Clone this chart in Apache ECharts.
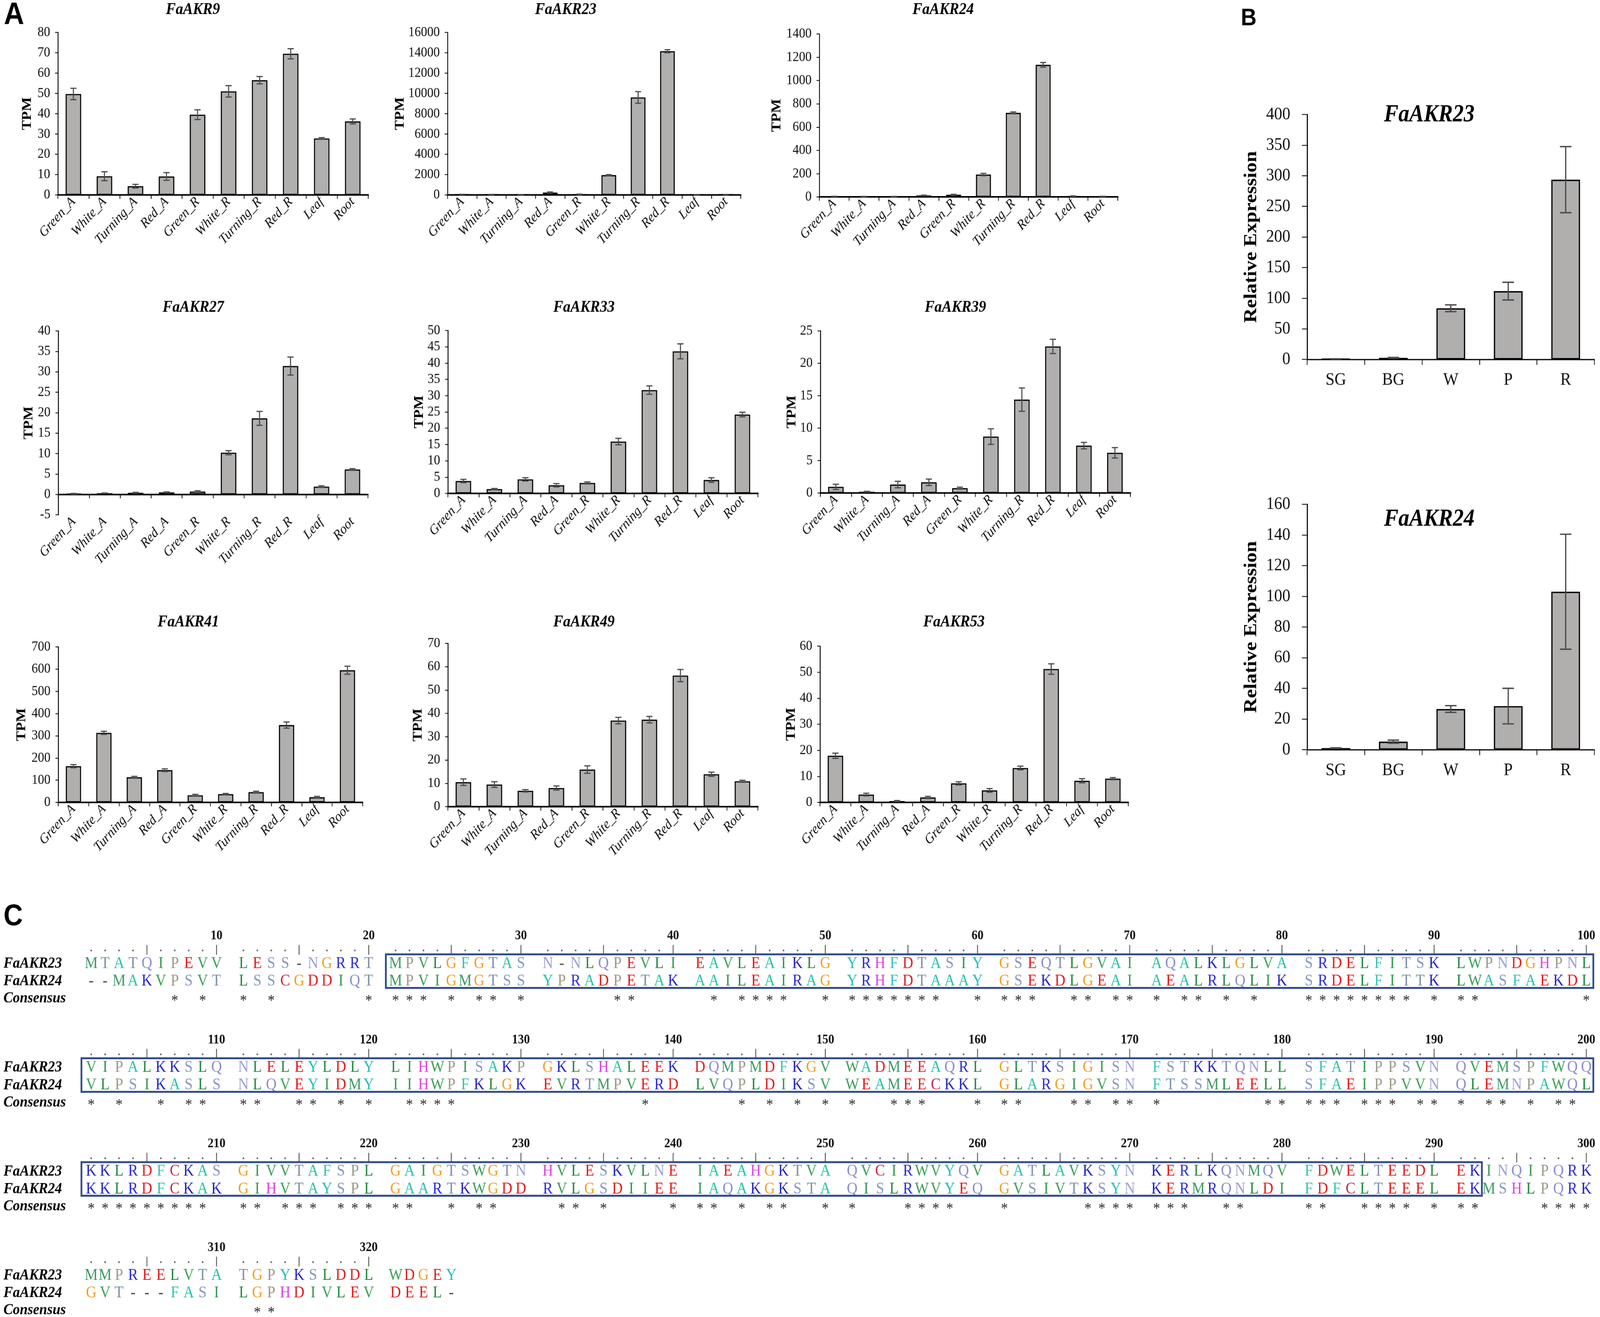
<!DOCTYPE html>
<html><head><meta charset="utf-8">
<script src="https://cdn.jsdelivr.net/npm/echarts@6/dist/echarts.min.js"></script>
<style>html,body{margin:0;padding:0;background:#fff;overflow:hidden}#c{width:4562px;height:3372px;transform-origin:0 0}</style>
</head><body><div id="c"></div>
<script>
// ---------------- DATA ----------------
const tissues = ['Green_A','White_A','Turning_A','Red_A','Green_R','White_R','Turning_R','Red_R','Leaf','Root'];

const akr9Mean  = [49.7, 9.2, 4.3, 9.1, 39.5, 51.0, 56.5, 69.5, 27.8, 36.2];
const akr9Err   = [2.8, 2.2, 0.9, 1.9, 2.4, 2.8, 1.8, 2.5, 0.4, 1.2];
const akr23Mean = [50, 40, 30, 230, 50, 1950, 9600, 14150, 30, 40];
const akr23Err  = [10, 8, 5, 60, 30, 50, 570, 150, 8, 8];
const akr24Mean = [4, 3, 3, 12, 18, 192, 722, 1135, 6, 4];
const akr24Err  = [1, 1, 1, 3, 4, 10, 8, 20, 2, 1];
const akr27Mean = [0.15, 0.3, 0.4, 0.5, 0.7, 10.2, 18.6, 31.4, 1.9, 6.1];
const akr27Err  = [0.1, 0.05, 0.1, 0.1, 0.2, 0.5, 1.7, 2.2, 0.2, 0.2];
const akr33Mean = [3.8, 1.3, 4.3, 2.5, 3.2, 15.9, 31.7, 43.6, 4.1, 24.2];
const akr33Err  = [0.5, 0.2, 0.5, 0.5, 0.3, 1.0, 1.3, 2.3, 0.7, 0.7];
const akr39Mean = [0.95, 0.2, 1.3, 1.65, 0.75, 8.7, 14.4, 22.6, 7.3, 6.2];
const akr39Err  = [0.4, 0.05, 0.5, 0.5, 0.15, 1.2, 1.8, 1.1, 0.5, 0.8];
const akr41Mean = [163, 313, 113, 145, 32, 37, 46, 348, 23, 595];
const akr41Err  = [7, 7, 4, 6, 4, 3, 4, 14, 4, 18];
const akr49Mean = [10.5, 9.5, 6.8, 8.0, 15.9, 36.9, 37.3, 56.2, 13.9, 10.9];
const akr49Err  = [1.4, 1.2, 0.5, 0.9, 1.6, 1.4, 1.4, 2.6, 0.9, 0.4];
const akr53Mean = [17.9, 3.0, 0.5, 1.9, 7.3, 4.6, 13.2, 51.2, 8.3, 9.1];
const akr53Err  = [1.0, 0.5, 0.2, 0.4, 0.6, 0.7, 0.7, 2.0, 0.8, 0.4];

const stages = ['SG','BG','W','P','R'];
const qAkr23Mean = [0.8, 2.5, 83.5, 111.5, 293.5];
const qAkr23Err  = [0.2, 0.6, 5.5, 14.5, 54];
const qAkr24Mean = [1.0, 5.2, 26.5, 28.4, 103];
const qAkr24Err  = [0.2, 1.0, 2.2, 11.6, 37.5];

const seqNames = ['FaAKR23', 'FaAKR24', 'Consensus'];
const seqAKR23 = [
  'MTATQIPEVV LESS-NGRRT MPVLGFGTAS N-NLQPEVLI EAVLEAIKLG YRHFDTASIY GSEQTLGVAI AQALKLGLVA SRDELFITSK LWPNDGHPNL',
  'VIPALKKSLQ NLELEYLDLY LIHWPISAKP GKLSHALEEK DQMPMDFKGV WADMEEAQRL GLTKSIGISN FSTKKTQNLL SFATIPPSVN QVEMSPFWQQ',
  'KKLRDFCKAS GIVVTAFSPL GAIGTSWGTN HVLESKVLNE IAEAHGKTVA QVCIRWVYQV GATLAVKSYN KERLKQNMQV FDWELTEEDL EKINQIPQRK',
  'MMPREELVTA TGPYKSLDDL WDGEY'
];
const seqAKR24 = [
  '--MAKVPSVT LSSCGDDIQT MPVIGMGTSS YPRADPETAK AAILEAIRAG YRHFDTAAAY GSEKDLGEAI AEALRLQLIK SRDELFITTK LWASFAEKDL',
  'VLPSIKASLS NLQVEYIDMY IIHWPFKLGK EVRTMPVERD LVQPLDIKSV WEAMEECKKL GLARGIGVSN FTSSMLEELL SFAEIPPVVN QLEMNPAWQL',
  'KKLRDFCKAK GIHVTAYSPL GAARTKWGDD RVLGSDIIEE IAQAKGKSTA QISLRWVYEQ GVSIVTKSYN KERMRQNLDI FDFCLTEEEL EKMSHLPQRK',
  'GVT---FASI LGPHDIVLEV DEEL-'
];
const rulerLast = 320;
// domain box: [block, first index in block, last index in block]
const domainBoxes = [[0, 20, 99], [1, 0, 99], [2, 0, 91]];

// ---------------- STYLE / LAYOUT ----------------
const SERIF = '"Liberation Serif","Times New Roman",serif';
const residueColor = {
  M:'#3b9a62', I:'#2f9a4c', V:'#3aa052', L:'#1f873c', W:'#3a9f55',
  A:'#1fc4a6', F:'#34c2b0', Y:'#1ebfb7',
  T:'#7a8faa', S:'#8697bf', N:'#9d9fd8', Q:'#8a8bd0', P:'#9c9886',
  G:'#f0a020', R:'#2a2ae0', K:'#1f1fc8', E:'#e81212', D:'#e41a1a',
  C:'#c0284c', H:'#e040e0', '-':'#444'
};

const panelsA = [
  {title:'FaAKR9',  mean:akr9Mean,  err:akr9Err,  min:0,  max:80,    interval:10},
  {title:'FaAKR23', mean:akr23Mean, err:akr23Err, min:0,  max:16000, interval:2000},
  {title:'FaAKR24', mean:akr24Mean, err:akr24Err, min:0,  max:1400,  interval:200},
  {title:'FaAKR27', mean:akr27Mean, err:akr27Err, min:-5, max:40,    interval:5},
  {title:'FaAKR33', mean:akr33Mean, err:akr33Err, min:0,  max:50,    interval:5},
  {title:'FaAKR39', mean:akr39Mean, err:akr39Err, min:0,  max:25,    interval:5},
  {title:'FaAKR41', mean:akr41Mean, err:akr41Err, min:0,  max:700,   interval:100},
  {title:'FaAKR49', mean:akr49Mean, err:akr49Err, min:0,  max:70,    interval:10},
  {title:'FaAKR53', mean:akr53Mean, err:akr53Err, min:0,  max:60,    interval:10}
];
const layoutA = [
  {l:165, r:1050, t:83,  b:499,  tx:550,  ty:25,   gap:68},
  {l:1276,r:2112, t:83,  b:499,  tx:1613, ty:25,   gap:108},
  {l:2336,r:3187, t:87,  b:504,  tx:2689, ty:25,   gap:102},
  {l:166, r:1049, t:847, b:1318, tx:551,  ty:787,  gap:64},
  {l:1277,r:2161, t:846, b:1263, tx:1665, ty:787,  gap:59},
  {l:2339,r:3223, t:847, b:1262, tx:2724, ty:787,  gap:56},
  {l:166, r:1034, t:1656,b:2054, tx:537,  ty:1593, gap:85},
  {l:1277,r:2161, t:1647,b:2065, tx:1665, ty:1593, gap:66},
  {l:2338,r:3217, t:1654,b:2054, tx:2720, ty:1593, gap:63}
];
const styleA = {xLine:4, yLine:2.5, xTick:10, yTick:8, rotate:45, catItalic:true, catSize:36, catMargin:12,
  tickSize:36, tickMargin:22, nameSize:38, titleSize:42, barBorder:3, errWidth:3};

const panelsB = [
  {title:'FaAKR23', mean:qAkr23Mean, err:qAkr23Err, min:0, max:400, interval:50},
  {title:'FaAKR24', mean:qAkr24Mean, err:qAkr24Err, min:0, max:160, interval:20}
];
const layoutB = [
  {l:3727, r:4546, t:293,  b:920,  tx:4075, ty:295,  gap:133},
  {l:3727, r:4546, t:1291, b:1919, tx:4075, ty:1330, gap:133}
];
const styleB = {xLine:3, yLine:3, xTick:14, yTick:15, rotate:0, catItalic:false, catSize:46, catMargin:30,
  tickSize:46, tickMargin:48, nameSize:52, titleSize:62, barBorder:3.5, errWidth:3.5};

// ---------------- BUILD ----------------
const grids = [], xAxes = [], yAxes = [], series = [], graphics = [];

function errRender(capFrac, lw) {
  return function (params, api) {
    const i = api.value(0), lo = api.value(1), hi = api.value(2);
    const a = api.coord([i, hi]), b = api.coord([i, lo]);
    const half = api.size([1, 0])[0] * capFrac / 2;
    const st = {stroke:'#4a4a4a', lineWidth:lw};
    return {type:'group', children:[
      {type:'line', shape:{x1:a[0], y1:a[1], x2:b[0], y2:b[1]}, style:st},
      {type:'line', shape:{x1:a[0]-half, y1:a[1], x2:a[0]+half, y2:a[1]}, style:st},
      {type:'line', shape:{x1:b[0]-half, y1:b[1], x2:b[0]+half, y2:b[1]}, style:st}
    ]};
  };
}

function addBarChart(spec, cats, lay, st, yName) {
  const gi = grids.length;
  grids.push({left:lay.l, top:lay.t, width:lay.r-lay.l, height:lay.b-lay.t, containLabel:false, outerBoundsMode:'none'});
  xAxes.push({gridIndex:gi, type:'category', data:cats, boundaryGap:true,
    axisLine:{show:true, onZero:true, lineStyle:{color:'#000', width:st.xLine}},
    axisTick:{show:true, length:st.xTick, lineStyle:{color:'#000', width:2}},
    axisLabel:{interval:0, rotate:st.rotate, fontFamily:SERIF, fontStyle:st.catItalic?'italic':'normal',
      fontSize:st.catSize, color:'#111', margin:st.catMargin},
    splitLine:{show:false}});
  yAxes.push({gridIndex:gi, type:'value', min:spec.min, max:spec.max, interval:spec.interval,
    axisLine:{show:true, lineStyle:{color:'#000', width:st.yLine}},
    axisTick:{show:true, length:st.yTick, lineStyle:{color:'#000', width:2}},
    axisLabel:{fontFamily:SERIF, fontSize:st.tickSize, color:'#111', margin:st.tickMargin,
      formatter:function (v) { return String(v); }},
    splitLine:{show:false},
    name:yName, nameLocation:'middle', nameGap:lay.gap,
    nameTextStyle:{fontFamily:SERIF, fontWeight:'bold', fontSize:st.nameSize, color:'#000'}});
  series.push({type:'bar', xAxisIndex:gi, yAxisIndex:gi, data:spec.mean, barWidth:'50%',
    itemStyle:{color:'#b1aeae', borderColor:'#000', borderWidth:st.barBorder}, silent:true});
  series.push({type:'custom', xAxisIndex:gi, yAxisIndex:gi, renderItem:errRender(0.2, st.errWidth),
    data:spec.mean.map((m, i) => [i, m - spec.err[i], m + spec.err[i]]), encode:{x:0, y:[1, 2]}, z:5, silent:true});
  graphics.push({type:'text', x:lay.tx, y:lay.ty, z:10,
    style:{text:spec.title, font:`italic bold ${st.titleSize}px ${SERIF}`, fill:'#000',
      align:'center', verticalAlign:'middle', textAlign:'center', textVerticalAlign:'middle'}});
}

panelsA.forEach((p, k) => addBarChart(p, tissues, layoutA[k], styleA, 'TPM'));
panelsB.forEach((p, k) => addBarChart(p, stages, layoutB[k], styleB, 'Relative Expression'));

// panel letters
[['A', 11, 40, 80], ['B', 3538, 48, 62], ['C', 10, 2348, 76]].forEach(([t, x, y, s]) => {
  graphics.push({type:'text', x:x, y:y, z:10, style:{text:t, font:`bold ${s}px "Liberation Sans",Arial,sans-serif`,
    fill:'#000', align:'left', verticalAlign:'middle', textAlign:'left', textVerticalAlign:'middle'}});
});

// ---------------- ALIGNMENT ----------------
const GAPU = 0.93;              // extra space between 10-residue groups (residue units)
const BLOCK_H = 266;            // px between alignment blocks
const OFF = {num:0, ruler:37, s1:71, s2:116, cons:160};
const slotX = i => i + Math.floor(i / 10) * GAPU;
const alignGrid = grids.length;
grids.push({left:260, right:39, top:2396, bottom:18, containLabel:false, outerBoundsMode:'none'});
xAxes.push({gridIndex:alignGrid, type:'value', min:0, max:slotX(99), show:false});
yAxes.push({gridIndex:alignGrid, type:'value', min:0, max:958, inverse:true, show:false});

const items = [];
const s23 = seqAKR23.map(s => s.replace(/ /g, ''));
const s24 = seqAKR24.map(s => s.replace(/ /g, ''));
for (let b = 0; b < s23.length; b++) {
  const base = b * BLOCK_H;
  items.push({k:'label', x:-6.3, y:base + OFF.s1, t:seqNames[0]});
  items.push({k:'label', x:-6.3, y:base + OFF.s2, t:seqNames[1]});
  items.push({k:'label', x:-6.3, y:base + OFF.cons, t:seqNames[2]});
  for (let i = 0; i < 100; i++) {
    const pos = b * 100 + i + 1;
    if (pos > rulerLast) break;
    const x = slotX(i);
    if (pos % 5 === 0) items.push({k:'bar', x:x, y:base + OFF.ruler});
    else items.push({k:'dot', x:x, y:base + OFF.ruler});
    if (pos % 10 === 0) items.push({k:'num', x:x, y:base + OFF.num, t:String(pos)});
  }
  const a = s23[b], c = s24[b];
  for (let i = 0; i < a.length; i++) {
    const x = slotX(i);
    items.push({k:'res', x:x, y:base + OFF.s1, t:a[i]});
    items.push({k:'res', x:x, y:base + OFF.s2, t:c[i]});
    if (a[i] === c[i] && a[i] !== '-') items.push({k:'star', x:x, y:base + OFF.cons});
  }
}

series.push({type:'custom', xAxisIndex:alignGrid, yAxisIndex:alignGrid, silent:true, clip:false,
  data:items.map(it => [it.x, it.y]), encode:{x:0, y:1},
  renderItem:function (params, api) {
    const it = items[params.dataIndex];
    const p = api.coord([it.x, it.y]);
    if (it.k === 'dot') return {type:'circle', shape:{cx:p[0], cy:p[1], r:2.4}, style:{fill:'#666'}};
    if (it.k === 'bar') return {type:'line', shape:{x1:p[0], y1:p[1]-14, x2:p[0], y2:p[1]+11}, style:{stroke:'#555', lineWidth:2.5}};
    let font, fill = '#111', align = 'center', y = p[1], x = p[0], txt = it.t;
    if (it.k === 'res') { font = `42px ${SERIF}`; fill = residueColor[it.t] || '#444'; }
    else if (it.k === 'num') { font = `bold 34px ${SERIF}`; }
    else if (it.k === 'star') { font = `40px ${SERIF}`; fill = '#2a2a2a'; txt = '*'; y = p[1] + 7; }
    else if (it.k === 'label') { font = `italic bold 40px ${SERIF}`; fill = '#000'; align = 'left'; }
    return {type:'text', style:{text:txt, x:x, y:y, font:font, fill:fill,
      align:align, verticalAlign:'middle', textAlign:align, textVerticalAlign:'middle'}};
  }});

series.push({type:'custom', xAxisIndex:alignGrid, yAxisIndex:alignGrid, silent:true, clip:false, z:4,
  data:domainBoxes.map(([b, s, e]) => [slotX(s) - 0.7, slotX(e) + 0.5, b * BLOCK_H + 47, b * BLOCK_H + 133]),
  encode:{x:[0, 1], y:[2, 3]},
  renderItem:function (params, api) {
    const p1 = api.coord([api.value(0), api.value(2)]);
    const p2 = api.coord([api.value(1), api.value(3)]);
    return {type:'rect', shape:{x:p1[0], y:p1[1], width:p2[0]-p1[0], height:p2[1]-p1[1]},
      style:{fill:'none', stroke:'#2e4a88', lineWidth:5}};
  }});

// fit the 4562x3372 design to the CSS viewport the browser reports (photo frame)
const W = 4562, H = 3372;
const el = document.getElementById('c');
const sx = (window.innerWidth || W) / W, sy = (window.innerHeight || H) / H;
if (Math.abs(sx - 1) > 0.001 || Math.abs(sy - 1) > 0.001) el.style.transform = 'scale(' + sx + ',' + sy + ')';
const dpr = (window.devicePixelRatio || 1) * Math.max(1, 1 / Math.min(sx, sy));
const chart = echarts.init(el, null, {renderer:'canvas', width:W, height:H, devicePixelRatio:dpr});
chart.setOption({
  animation:false,
  backgroundColor:'#ffffff',
  textStyle:{fontFamily:SERIF},
  grid:grids, xAxis:xAxes, yAxis:yAxes, series:series, graphic:graphics
});
</script>
</body></html>
